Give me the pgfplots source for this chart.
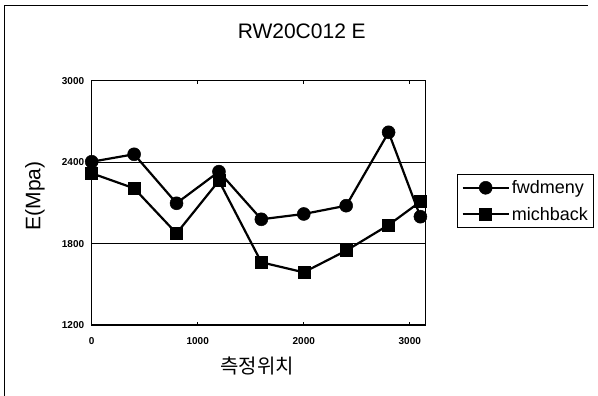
\documentclass[border=0pt]{standalone}
\usepackage{fontspec}
\setmainfont{Liberation Sans}
\newfontfamily\kr{Noto Sans CJK KR}
\usepackage{pgfplots}
\pgfplotsset{compat=1.18}
\begin{document}
\begin{tikzpicture}
\path[use as bounding box] (0pt,0pt) rectangle (598pt,-396pt);
\draw[line width=1pt] (4.5pt,-396pt) -- (4.5pt,-6pt) -- (588pt,-6pt);
\begin{axis}[
  at={(91.7pt,-325pt)}, anchor=south west,
  scale only axis, width=334pt, height=244.3pt,
  xmin=0, xmax=3150, ymin=1200, ymax=3000,
  xtick={0,1000,2000,3000}, ytick={1200,1800,2400,3000},
  ymajorgrids, grid style={black, line width=0.9pt},
  tick align=inside, major tick length=3pt, tick style={black, line width=0.8pt},
  /pgf/number format/assume math mode=true,
  /pgf/number format/set thousands separator={},
  tick label style={font=\fontsize{10}{12}\selectfont\bfseries},
  xticklabel style={yshift=-9pt},
  yticklabel style={xshift=-4pt},
  axis line style={line width=1.3pt},
  clip=false,
  title={RW20C012 E},
  title style={at={(axis description cs:0.629,1.176)}, anchor=center, font=\fontsize{21}{25}\selectfont},
  xlabel={\kr 측정위치},
  xlabel style={at={(axis description cs:0.496,-0.168)}, anchor=center, font=\fontsize{20}{24}\selectfont},
  ylabel={E(Mpa)},
  ylabel style={at={(axis description cs:-0.17,0.528)}, anchor=center, font=\fontsize{21}{25}\selectfont},
  legend style={at={(1.094,0.618)}, anchor=north west, draw=black, line width=1pt,
    font=\fontsize{18}{21}\selectfont, inner sep=4pt, row sep=8pt, cells={anchor=west}},
  legend image code/.code={\draw[mark repeat=2,mark phase=2,#1] plot coordinates {(0pt,0pt) (23pt,0pt) (46pt,0pt)};},
]
\addplot[black, line width=2.2pt, mark=*, mark size=6.5pt, mark options={fill=black, line width=0.5pt}]
  coordinates {(0,2403) (400,2458) (800,2097) (1200,2330) (1600,1979) (2000,2018) (2400,2079) (2800,2620) (3100,1998)};
\addlegendentry{fwdmeny}
\addplot[black, line width=2.2pt, mark=square*, mark size=6pt, mark options={fill=black, line width=0.5pt}]
  coordinates {(0,2318) (400,2207) (800,1875) (1200,2263) (1600,1662) (2000,1588) (2400,1748) (2800,1937) (3100,2109)};
\addlegendentry{michback}
\end{axis}
\end{tikzpicture}
\end{document}
